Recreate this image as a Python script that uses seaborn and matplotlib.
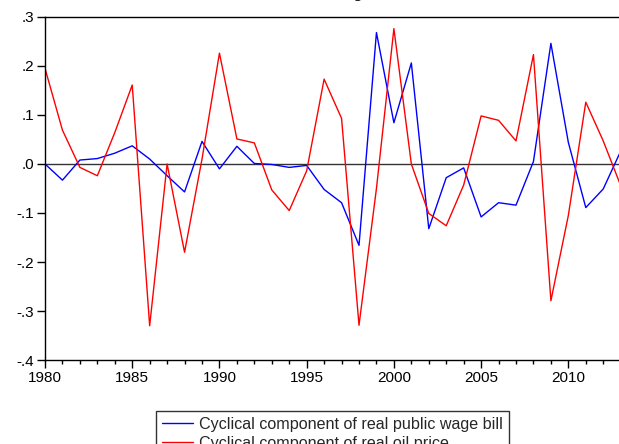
import numpy as np
import pandas as pd
import matplotlib
matplotlib.use('Agg')
import matplotlib.pyplot as plt
import matplotlib.ticker as mticker
import seaborn as sns

# values
years = list(range(1980, 2014))
wage_bill = [0.000, -0.033, 0.008, 0.011, 0.022, 0.037, 0.010, -0.024, -0.057, 0.046,
             -0.010, 0.036, 0.001, -0.001, -0.007, -0.003, -0.052, -0.079, -0.166, 0.268,
             0.084, 0.206, -0.132, -0.028, -0.008, -0.108, -0.079, -0.084, 0.005, 0.246,
             0.044, -0.089, -0.051, 0.026]
oil_price = [0.195, 0.069, -0.007, -0.024, 0.064, 0.161, -0.330, 0.000, -0.180, 0.010,
             0.226, 0.051, 0.043, -0.053, -0.095, -0.014, 0.173, 0.093, -0.329, -0.050,
             0.276, 0.000, -0.101, -0.126, -0.043, 0.098, 0.089, 0.047, 0.223, -0.279,
             -0.105, 0.126, 0.047, -0.044]
series_names = ['Cyclical component of real public wage bill',
                'Cyclical component of real oil price']
title_text = 'HP filter components'

df = pd.DataFrame({'year': years * 2,
                   'value': wage_bill + oil_price,
                   'series': [series_names[0]] * len(years) + [series_names[1]] * len(years)})

sns.set_style('white')
plt.rcParams['font.family'] = ['Liberation Sans', 'DejaVu Sans']

fig = plt.figure(figsize=(6.19, 4.44), dpi=100)
ax = fig.add_axes([0.0727, 0.189, 0.93, 0.773])

sns.lineplot(data=df, x='year', y='value', hue='series',
             palette=['#0000ff', '#ff0000'], linewidth=1.0, ax=ax, legend=False)
ax.axhline(0, color='#333333', linewidth=1.0, zorder=1)

ax.set_xlim(1980, 2013)
ax.set_ylim(-0.4, 0.3)
ax.set_xlabel('')
ax.set_ylabel('')

ax.xaxis.set_major_locator(mticker.MultipleLocator(5))
ax.xaxis.set_minor_locator(mticker.MultipleLocator(1))
ax.yaxis.set_major_locator(mticker.MultipleLocator(0.1))


def fmt_y(v, pos):
    s = '%.1f' % v
    return s.replace('0.', '.')


ax.yaxis.set_major_formatter(mticker.FuncFormatter(fmt_y))
ax.tick_params(axis='both', which='major', direction='out', length=6, width=1,
               color='black', labelsize=11, labelcolor='black', pad=2)
ax.tick_params(axis='x', which='minor', direction='out', length=3, width=1, color='black')
ax.tick_params(bottom=True, left=True, which='both')
ax.tick_params(axis='y', which='minor', left=False)

for side in ['left', 'bottom', 'top']:
    ax.spines[side].set_color('black')
    ax.spines[side].set_linewidth(1.0)
ax.spines['right'].set_visible(False)

# title mostly sits above the canvas, only the descender shows
fig.text(0.537, 1.006, title_text, ha='center', va='baseline', fontsize=14,
         fontweight='bold', family='Liberation Serif')

handles = [plt.Line2D([], [], color='#0000ff', lw=1.0),
           plt.Line2D([], [], color='#ff0000', lw=1.0)]
leg = fig.legend(handles, series_names, loc='upper center', bbox_to_anchor=(0.537, 0.0743),
                 ncol=1, fontsize=11.6, frameon=True, fancybox=False, borderpad=0.35,
                 handlelength=1.9, handletextpad=0.4, labelspacing=0.25, borderaxespad=0)
leg.get_frame().set_edgecolor('black')
leg.get_frame().set_linewidth(1.0)

fig.savefig('out.png', dpi=100)
